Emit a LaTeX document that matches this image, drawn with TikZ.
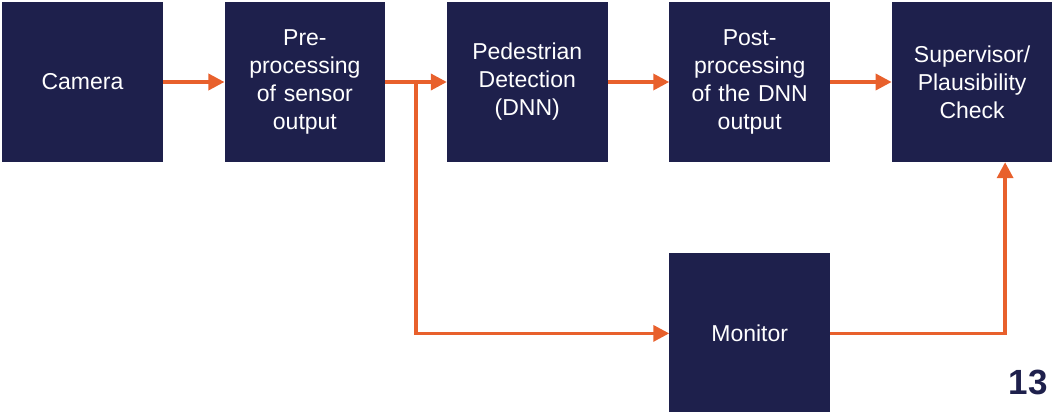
\documentclass[tikz,border=0pt]{standalone}
\usepackage{fontspec}
\setmainfont{Liberation Sans}
\usetikzlibrary{positioning,arrows.meta,calc}
\definecolor{navy}{RGB}{30,32,76}
\definecolor{dorange}{RGB}{232,96,44}
\begin{document}
\begin{tikzpicture}[>={Triangle[length=16pt,width=16pt]},node distance=61.5pt and 61.5pt,
    box/.style={rectangle,fill=navy,text=white,inner sep=0pt,
                minimum width=160.5pt,minimum height=160pt,text width=150pt,align=center,
                font=\fontsize{23}{28}\selectfont},
    ar/.style={->,line width=3.5pt,draw=dorange}]
    \useasboundingbox (0,0) rectangle (1053pt,-412pt);
    \node[box] (cam) at (82.5pt,-82pt) {Camera};
    \node[box,right=of cam] (pre)  {Pre-\\ processing\\ of sensor\\ output};
    \node[box,right=of pre] (ped)  {Pedestrian\\ Detection\\ (DNN)};
    \node[box,right=of ped] (post) {Post-\\ processing\\ of the DNN\\ output};
    \node[box,right=of post] (sup) {Supervisor/\\ Plausibility\\ Check};
    \node[box,below=91pt of post] (mon) {Monitor};
    \node[text=navy,font=\fontsize{35}{40}\selectfont\bfseries] (page) at (1028pt,-382pt) {13};
    \coordinate (split) at ($(pre.east)!0.5!(ped.west)$);
    \coordinate (supin) at ($(sup.south)+(33pt,0)$);
    \draw[ar](cam)--(pre);\draw[ar](pre)--(ped);\draw[ar](ped)--(post);\draw[ar](post)--(sup);
    \draw[ar] (split) |- (mon.west);
    \draw[ar] (mon.east) -| (supin);
  \end{tikzpicture}
\end{document}
